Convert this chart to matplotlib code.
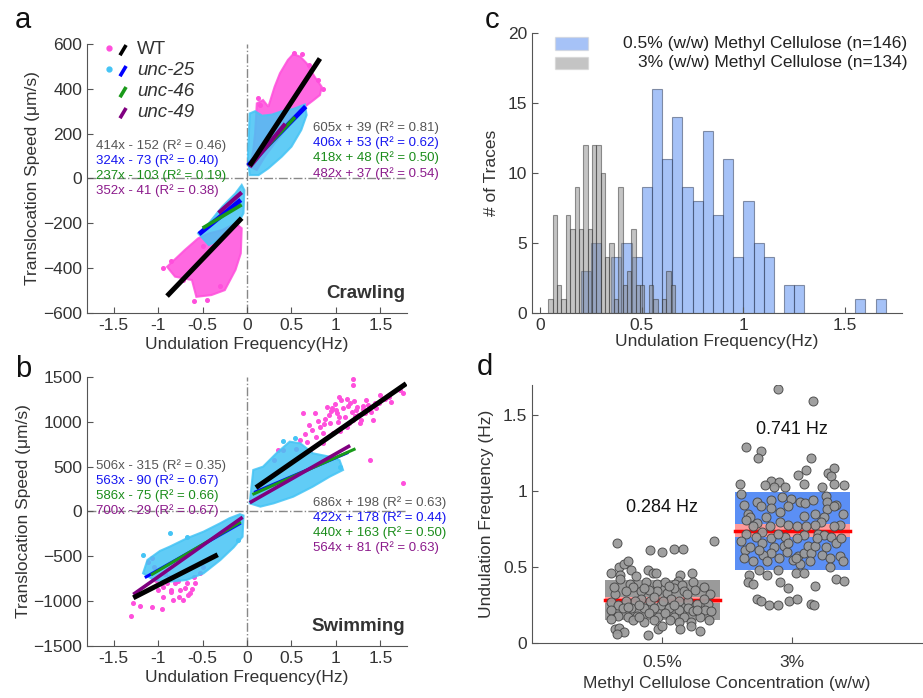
import numpy as np
import matplotlib
matplotlib.use('Agg')
import matplotlib.pyplot as plt
from matplotlib.patches import Rectangle

plt.rcParams['font.family'] = ['Liberation Sans', 'DejaVu Sans']

# ---------------- panels a / b : regression fits ----------------
strains = ['WT', 'unc-25', 'unc-46', 'unc-49']
line_colors = ['black', '#0000ff', '#1a9a1a', '#800080']
text_colors = ['#555555', '#1414f0', '#1a8c1a', '#8b1a8b']

crawl_pos_slope = [605, 406, 418, 482]
crawl_pos_icpt = [39, 53, 48, 37]
crawl_pos_r2 = [0.81, 0.62, 0.50, 0.54]
crawl_pos_xmin = [0.03, 0.01, 0.05, 0.03]
crawl_pos_xmax = [0.82, 0.66, 0.54, 0.43]
crawl_neg_slope = [414, 324, 237, 352]
crawl_neg_icpt = [-152, -73, -103, -41]
crawl_neg_r2 = [0.46, 0.40, 0.19, 0.38]
crawl_neg_xmin = [-0.90, -0.54, -0.50, -0.32]
crawl_neg_xmax = [-0.06, -0.07, -0.06, -0.06]

swim_pos_slope = [686, 422, 440, 564]
swim_pos_icpt = [198, 178, 163, 81]
swim_pos_r2 = [0.63, 0.44, 0.50, 0.63]
swim_pos_xmin = [0.10, 0.08, 0.06, 0.03]
swim_pos_xmax = [1.79, 1.14, 1.22, 1.16]
swim_neg_slope = [506, 563, 586, 700]
swim_neg_icpt = [-315, -90, -75, -29]
swim_neg_r2 = [0.35, 0.67, 0.66, 0.67]
swim_neg_xmin = [-1.28, -1.15, -1.08, -1.28]
swim_neg_xmax = [-0.33, -0.07, -0.07, -0.05]

# point clouds (outlines)
crawl_wt_pos_x = [0.03, 0.07, 0.09, 0.11, 0.18, 0.24, 0.31, 0.37, 0.46, 0.52, 0.60, 0.67,
                  0.76, 0.84, 0.82, 0.75, 0.65, 0.54, 0.43, 0.31, 0.20, 0.11]
crawl_wt_pos_y = [52, 127, 201, 335, 350, 320, 409, 469, 529, 555, 543, 514,
                  454, 409, 372, 350, 320, 276, 216, 157, 97, 38]
crawl_mut_pos_x = [0.03, 0.01, 0.03, 0.09, 0.17, 0.28, 0.39, 0.52, 0.65, 0.67, 0.61, 0.50,
                   0.39, 0.24, 0.13]
crawl_mut_pos_y = [15, 97, 290, 300, 280, 285, 300, 310, 330, 283, 216, 142, 97, 45, 15]
crawl_wt_neg_x = [-0.90, -0.70, -0.55, -0.43, -0.28, -0.13, -0.06, -0.07, -0.13, -0.25,
                  -0.40, -0.57, -0.62, -0.81]
crawl_wt_neg_y = [-394, -319, -267, -245, -230, -200, -222, -334, -408, -498,
                  -520, -528, -453, -438]
crawl_mut_neg_x = [-0.55, -0.43, -0.28, -0.13, -0.06, -0.03, -0.04, -0.10, -0.21, -0.32, -0.43]
crawl_mut_neg_y = [-245, -200, -126, -66, -29, -52, -155, -200, -230, -275, -297]
crawl_wt_dot_x = [0.53, 0.62, 0.80, 0.86, 0.70, 0.12, 0.15, -0.95, -0.85, -0.60, -0.45,
                  -0.30, -0.72, -0.50]
crawl_wt_dot_y = [560, 555, 440, 400, 505, 360, 330, -400, -370, -545, -540, -480,
                  -455, -300]

swim_mut_pos_x = [0.03, 0.07, 0.18, 0.33, 0.48, 0.60, 0.74, 0.93, 1.04, 1.08, 0.93, 0.74,
                  0.52, 0.30, 0.15]
swim_mut_pos_y = [91, 463, 500, 649, 779, 760, 649, 611, 574, 463, 388, 277, 165, 91, 54]
swim_mut_neg_x = [-1.17, -1.12, -0.98, -0.87, -0.68, -0.49, -0.30, -0.20, -0.08, -0.04,
                  -0.05, -0.15, -0.30, -0.49, -0.68, -0.87, -1.05]
swim_mut_neg_y = [-689, -540, -440, -392, -300, -225, -130, -76, -30, -45,
                  -281, -400, -541, -690, -764, -782, -764]

swim_wt_pos_x = [1.19, 1.19, 1.76, 1.72, 1.04, 1.34, 1.49, 0.90, 1.16, 1.23, 1.40, 0.76, 0.63,
                 1.04, 1.19, 0.93, 1.27, 1.42, 1.01, 0.82, 1.12, 0.97, 0.73, 0.78, 0.71, 0.86,
                 0.41, 0.35, 0.30, 1.38, 1.76, 0.95, 1.08, 1.10, 1.25, 1.30, 1.15, 1.05, 0.88,
                 0.99, 1.20, 1.33, 1.45, 1.55, 0.70, 0.85, 1.12, 1.28, 0.92, 1.50, 1.60, 0.60,
                 0.55, 0.65, 1.02, 1.36, 1.62, 0.80, 1.18, 0.68, 1.06, 1.14, 1.22, 0.96, 1.31,
                 1.44, 0.87, 1.00, 1.24]
swim_wt_pos_y = [1474, 1411, 1318, 1355, 1281, 1243, 1206, 1169, 1206, 1132, 1113, 1094, 1094,
                 1057, 1020, 983, 983, 1020, 1094, 946, 946, 872, 909, 835, 686, 760,
                 686, 686, 574, 574, 315, 1120, 1150, 1050, 1080, 1180, 990, 900, 1030,
                 1200, 1230, 1100, 1150, 1250, 960, 880, 1260, 1020, 1080, 1300, 1280, 800,
                 700, 860, 1000, 1190, 1220, 1010, 1110, 780, 1240, 1180, 1060, 1150, 1140,
                 1210, 980, 1130, 1170]
swim_wt_neg_x = [-1.30, -1.28, -1.20, -1.07, -0.96, -1.11, -1.07, -1.05, -0.88, -0.81, -0.75,
                 -0.86, -0.72, -0.77, -0.68, -0.60, -0.94, -1.02, -0.83, -0.64, -0.53, -0.49,
                 -0.90, -0.85, -0.70, -0.78, -0.66, -0.58, -0.95, -1.00, -0.92, -0.62]
swim_wt_neg_y = [-1165, -1024, -1054, -1062, -1087, -559, -522, -615, -727, -801, -875,
                 -875, -987, -950, -801, -727, -838, -764, -987, -913, -690, -615,
                 -800, -900, -850, -780, -930, -800, -950, -880, -700, -860]
swim_mut_dot_x = [-0.87, -0.68, -1.17, 0.54, 0.40, 1.05, -0.10]
swim_mut_dot_y = [-243, -280, -485, 816, 790, 500, -320]

# ---------------- panel c : histograms ----------------
blue_start, blue_width = 0.20, 0.05
blue_counts = [3, 5, 0, 4, 5, 4, 9, 16, 11, 14, 9, 8, 13, 7, 11, 4, 8, 5, 4, 0,
               2, 2, 0, 0, 0, 0, 0, 1, 0, 1]
gray_start, gray_width = 0.04, 0.0215
gray_counts = [1, 7, 2, 1, 7, 6, 9, 6, 12, 6, 12, 12, 10, 4, 5, 1, 9, 2, 3, 6,
               2, 2, 0, 2, 1, 0, 1, 3, 2]
hist_labels = ['0.5% (w/w) Methyl Cellulose (n=146)', '3% (w/w) Methyl Cellulose (n=134)']

# ---------------- panel d : jittered points ----------------
conc_labels = ['0.5%', '3%']
means = [0.284, 0.741]
sds = [0.13, 0.257]
cis = [0.02, 0.04]

low_dx = [-0.35, -0.09, 0.0, 0.09, 0.16, 0.40, -0.39, -0.33, -0.29, -0.26, -0.32, -0.24, -0.20,
          -0.11, -0.07, -0.05, 0.14, 0.23, 0.12, 0.10, -0.32, -0.25, -0.22, -0.12, -0.04, 0.02,
          0.09, 0.15, 0.24, 0.25, 0.32, 0.17, 0.04, -0.04, -0.16, -0.28, -0.36, 0.37, -0.16,
          -0.09, -0.21, -0.28, -0.39, -0.34, 0.07, 0.13, 0.20, 0.27, 0.35, -0.01, -0.06, -0.14,
          -0.24, -0.30, -0.39, 0.05, 0.13, 0.20, 0.24, 0.33, 0.38, -0.34, -0.26, -0.19, -0.10,
          -0.03, 0.02, 0.09, 0.17, 0.29, 0.36, -0.39, -0.22, -0.14, -0.06, 0.13, 0.22, -0.36,
          -0.33, -0.29, -0.35, -0.11, -0.03, 0.0, 0.14, 0.22, 0.29, -0.18, 0.06, 0.32, -0.37,
          0.01, -0.26, 0.19, -0.10, 0.09, -0.18, 0.27, 0.05, -0.06, -0.14]
low_y = [0.66, 0.61, 0.60, 0.62, 0.62, 0.67, 0.46, 0.50, 0.52, 0.54, 0.45, 0.48, 0.44,
         0.48, 0.46, 0.46, 0.45, 0.46, 0.41, 0.39, 0.42, 0.39, 0.37, 0.40, 0.39, 0.40,
         0.36, 0.38, 0.40, 0.35, 0.37, 0.34, 0.33, 0.34, 0.34, 0.34, 0.32, 0.32, 0.29,
         0.28, 0.28, 0.28, 0.27, 0.25, 0.29, 0.28, 0.28, 0.26, 0.26, 0.25, 0.23, 0.23,
         0.23, 0.23, 0.22, 0.23, 0.22, 0.23, 0.21, 0.22, 0.21, 0.18, 0.17, 0.18, 0.20,
         0.17, 0.20, 0.17, 0.17, 0.17, 0.15, 0.16, 0.15, 0.14, 0.15, 0.14, 0.14, 0.09,
         0.10, 0.07, 0.06, 0.05, 0.09, 0.11, 0.09, 0.11, 0.08, 0.17, 0.15, 0.29, 0.37,
         0.28, 0.24, 0.32, 0.35, 0.25, 0.25, 0.22, 0.375, 0.305, 0.36]
high_dx = [-0.11, 0.16, -0.35, -0.24, -0.26, 0.15, 0.05, 0.11, 0.28, 0.32, 0.30, -0.40, -0.16,
           -0.10, -0.05, -0.14, 0.09, 0.23, 0.32, 0.40, -0.21, -0.39, -0.37, -0.27, -0.24,
           -0.16, -0.08, -0.01, 0.06, 0.10, 0.16, 0.26, 0.34, 0.39, 0.27, -0.34, -0.32, -0.35,
           -0.16, -0.09, -0.03, 0.09, 0.18, 0.27, 0.32, 0.25, 0.22, 0.18, 0.37, -0.20, -0.27,
           -0.30, -0.23, -0.17, -0.09, -0.03, 0.04, -0.35, -0.39, -0.36, -0.37, -0.28, -0.23,
           -0.16, -0.14, -0.16, -0.22, -0.19, -0.30, -0.32, -0.05, -0.06, -0.04, -0.10, 0.01,
           0.05, 0.09, 0.12, 0.15, 0.18, 0.20, 0.25, 0.30, 0.34, 0.38, 0.26, 0.23, 0.29, 0.37,
           0.39, 0.09, 0.04, 0.11, 0.14, 0.06, 0.03, -0.03, -0.11, -0.25, 0.32, 0.19, -0.25,
           -0.11, -0.19, 0.03, 0.09, 0.29, -0.33, -0.34, -0.30, -0.09, 0.18, -0.03, 0.34, 0.40,
           -0.27, -0.24, -0.18, -0.11, -0.02, 0.04, 0.15, 0.17]
high_y = [1.675, 1.594, 1.29, 1.263, 1.22, 1.22, 1.11, 1.14, 1.12, 1.15, 1.10, 1.05, 1.07,
          1.06, 1.03, 1.03, 1.05, 1.03, 1.05, 1.04, 1.04, 0.98, 0.91, 0.93, 0.90,
          0.94, 0.96, 0.95, 0.93, 0.92, 0.94, 0.97, 0.91, 0.85, 0.93, 0.85, 0.83, 0.81,
          0.89, 0.86, 0.90, 0.84, 0.85, 0.88, 0.90, 0.83, 0.80, 0.78, 0.78, 0.83, 0.79,
          0.77, 0.73, 0.77, 0.80, 0.78, 0.77, 0.72, 0.67, 0.61, 0.56, 0.70, 0.66,
          0.69, 0.63, 0.59, 0.58, 0.54, 0.54, 0.63, 0.70, 0.64, 0.60, 0.56, 0.55,
          0.57, 0.59, 0.64, 0.59, 0.64, 0.72, 0.71, 0.70, 0.66, 0.69, 0.63, 0.58, 0.56, 0.57,
          0.54, 0.71, 0.69, 0.77, 0.54, 0.52, 0.56, 0.66, 0.72, 0.61, 0.77, 0.69, 0.48,
          0.48, 0.45, 0.46, 0.46, 0.50, 0.45, 0.40, 0.39, 0.40, 0.375, 0.36, 0.42, 0.41,
          0.29, 0.28, 0.25, 0.25, 0.28, 0.29, 0.26, 0.25]

# ---------------------------------------------------------------
fig = plt.figure(figsize=(9.23, 6.98), dpi=100)
ax_a = fig.add_axes([0.0943, 0.5516, 0.3467, 0.3854])
ax_b = fig.add_axes([0.0943, 0.0745, 0.3467, 0.3854])
ax_c = fig.add_axes([0.5764, 0.5516, 0.4009, 0.4011])
ax_d = fig.add_axes([0.5764, 0.0788, 0.4225, 0.3696])

axis_gray = '#555555'
pink = '#ff4fdc'
cyan = '#45c4f5'


def style(ax):
    for s in ['top', 'right']:
        ax.spines[s].set_visible(False)
    for s in ['left', 'bottom']:
        ax.spines[s].set_color(axis_gray)
    ax.tick_params(direction='in', length=4, colors=axis_gray, labelcolor='#333333',
                   labelsize=12.5)


def eq_text(slope, icpt, r2):
    sign = '+' if icpt >= 0 else '-'
    return f'{slope}x {sign} {abs(icpt)} (R\u00b2 = {r2:.2f})'


def speed_panel(ax, ylim, yticks, wt_clouds, mut_clouds, pos, neg, name,
                left_rows, right_rows, wt_dots=None, mut_dots=None, widths=None):
    style(ax)
    ax.axvline(0, color='#888888', ls='-.', lw=1, zorder=1)
    ax.axhline(0, color='#888888', ls='-.', lw=1, zorder=1)
    for cx, cy in wt_clouds:
        ax.fill(cx, cy, color=pink, alpha=0.85, lw=1.5, zorder=2)
    if wt_dots is not None:
        ax.plot(wt_dots[0], wt_dots[1], 'o', color=pink, ms=2.6, zorder=2)
    for cx, cy in mut_clouds:
        ax.fill(cx, cy, color=cyan, alpha=0.85, lw=1.5, zorder=3)
    if mut_dots is not None:
        ax.plot(mut_dots[0], mut_dots[1], 'o', color=cyan, ms=2.6, zorder=3)
    for fit in (pos, neg):
        slope, icpt, r2, xmin, xmax = fit
        for i in range(4):
            xs = np.array([xmin[i], xmax[i]])
            ax.plot(xs, slope[i] * xs + icpt[i], color=line_colors[i], lw=widths[i],
                    solid_capstyle='butt', zorder=5 if i == 0 else 4 + i * 0.1)
    for i in range(4):
        ax.text(0.028, left_rows[i], eq_text(neg[0][i], neg[1][i], neg[2][i]),
                transform=ax.transAxes, color=text_colors[i], fontsize=9.5, va='center',
                zorder=6)
        ax.text(0.706, right_rows[i], eq_text(pos[0][i], pos[1][i], pos[2][i]),
                transform=ax.transAxes, color=text_colors[i], fontsize=9.5, va='center',
                zorder=6)
    ax.text(0.995, 0.074, name, transform=ax.transAxes, ha='right', va='center',
            fontsize=13.5, fontweight='bold', color='#333333')
    ax.set_xlim(-1.8, 1.8)
    ax.set_ylim(*ylim)
    ax.set_xticks([-1.5, -1, -0.5, 0, 0.5, 1, 1.5])
    ax.set_xticklabels(['-1.5', '-1', '-0.5', '0', '0.5', '1', '1.5'])
    ax.set_yticks(yticks)
    ax.set_xlabel('Undulation Frequency(Hz)', fontsize=12.5, color='#333333', labelpad=3)
    ax.set_ylabel('Translocation Speed (\u03bcm/s)', fontsize=12.5, color='#333333',
                  labelpad=2)


speed_panel(ax_a, (-600, 600), [-600, -400, -200, 0, 200, 400, 600],
            [(crawl_wt_pos_x, crawl_wt_pos_y), (crawl_wt_neg_x, crawl_wt_neg_y)],
            [(crawl_mut_pos_x, crawl_mut_pos_y), (crawl_mut_neg_x, crawl_mut_neg_y)],
            (crawl_pos_slope, crawl_pos_icpt, crawl_pos_r2, crawl_pos_xmin, crawl_pos_xmax),
            (crawl_neg_slope, crawl_neg_icpt, crawl_neg_r2, crawl_neg_xmin, crawl_neg_xmax),
            'Crawling', [0.621, 0.565, 0.509, 0.454], [0.688, 0.632, 0.576, 0.520],
            wt_dots=(crawl_wt_dot_x, crawl_wt_dot_y), widths=[3.6, 3.4, 2.6, 3.0])

speed_panel(ax_b, (-1500, 1500), [-1500, -1000, -500, 0, 500, 1000, 1500],
            [],
            [(swim_mut_pos_x, swim_mut_pos_y), (swim_mut_neg_x, swim_mut_neg_y)],
            (swim_pos_slope, swim_pos_icpt, swim_pos_r2, swim_pos_xmin, swim_pos_xmax),
            (swim_neg_slope, swim_neg_icpt, swim_neg_r2, swim_neg_xmin, swim_neg_xmax),
            'Swimming', [0.670, 0.614, 0.560, 0.502], [0.533, 0.477, 0.421, 0.366],
            wt_dots=(swim_wt_pos_x + swim_wt_neg_x, swim_wt_pos_y + swim_wt_neg_y),
            mut_dots=(swim_mut_dot_x, swim_mut_dot_y), widths=[3.6, 2.2, 2.2, 2.6])

# legend of panel a
marker_cols = [pink, cyan, None, None]
for i in range(4):
    yy = 0.978 - 0.078 * i
    if marker_cols[i] is not None:
        ax_a.plot([0.069], [yy + 0.008], 'o', ms=3.5, color=marker_cols[i],
                  transform=ax_a.transAxes, clip_on=False)
    ax_a.plot([0.103, 0.122], [yy - 0.02, yy + 0.018], color=line_colors[i], lw=2.6,
              transform=ax_a.transAxes, clip_on=False, solid_capstyle='butt')
    ax_a.text(0.156, yy, strains[i], transform=ax_a.transAxes, fontsize=13.5,
              va='center', color='#333333', fontstyle='normal' if i == 0 else 'italic')

# ---------------- panel c ----------------
style(ax_c)
blue_edges = blue_start + blue_width * np.arange(len(blue_counts))
gray_edges = gray_start + gray_width * np.arange(len(gray_counts))
ax_c.bar(blue_edges, blue_counts, width=blue_width, align='edge',
         color='#4f86f0', alpha=0.5, edgecolor='#2a3550', lw=0.8)
ax_c.bar(gray_edges, gray_counts, width=gray_width, align='edge',
         color='#8a8a8a', alpha=0.5, edgecolor='#303030', lw=0.8)
ax_c.set_xlim(-0.04, 1.78)
ax_c.set_ylim(0, 20)
ax_c.set_xticks([0, 0.5, 1, 1.5])
ax_c.set_xticklabels(['0', '0.5', '1', '1.5'])
ax_c.set_yticks([0, 5, 10, 15, 20])
ax_c.set_xlabel('Undulation Frequency(Hz)', fontsize=12.5, color='#333333', labelpad=1)
ax_c.set_ylabel('# of Traces', fontsize=12.5, color='#333333', labelpad=6)
leg_cols = ['#4f86f0', '#8a8a8a']
for i in range(2):
    yy = 0.964 - 0.071 * i
    ax_c.add_patch(Rectangle((0.062, yy - 0.023), 0.089, 0.046, transform=ax_c.transAxes,
                             facecolor=leg_cols[i], alpha=0.5, edgecolor='#d0d0d0',
                             clip_on=False))
    ax_c.text(1.014, yy, hist_labels[i], transform=ax_c.transAxes, ha='right', va='center',
              fontsize=12.5, color='#222222')

# ---------------- panel d ----------------
style(ax_d)
box_cols = ['#9a9a9a', '#5b8ff5']
groups = [(low_dx, low_y), (high_dx, high_y)]
for i in range(2):
    pos = i + 1
    ax_d.add_patch(Rectangle((pos - 0.435, means[i] - sds[i]), 0.88, 2 * sds[i],
                             facecolor=box_cols[i], edgecolor='none', zorder=1))
    ax_d.add_patch(Rectangle((pos - 0.435, means[i] - cis[i]), 0.88, 2 * cis[i],
                             facecolor='#ff9a9a', edgecolor='none', zorder=2))
    ax_d.plot([pos - 0.435, pos + 0.445], [means[i], means[i]], color='#ff0000', lw=2.5,
              zorder=3)
    dx, yv = groups[i]
    ax_d.scatter(pos + np.array(dx), yv, s=42, facecolor='#9b9b9b', edgecolor='#4a4a4a',
                 lw=0.7, alpha=0.95, zorder=4)
    ax_d.text(pos, [0.89, 1.41][i], f'{means[i]:.3f} Hz', ha='center', va='center',
              fontsize=13, color='#111111')
ax_d.set_xlim(0, 3)
ax_d.set_ylim(0, 1.7)
ax_d.set_xticks([1, 2])
ax_d.set_xticklabels(conc_labels)
ax_d.tick_params(axis='x', pad=9)
ax_d.set_yticks([0, 0.5, 1, 1.5])
ax_d.set_yticklabels(['0', '0.5', '1', '1.5'])
ax_d.set_xlabel('Methyl Cellulose Concentration (w/w)', fontsize=12.5, color='#333333',
                labelpad=4)
ax_d.set_ylabel('Undulation Frequency (Hz)', fontsize=12.5, color='#333333', labelpad=6)

# panel letters
for letter, (fx, fy) in zip('abcd', [(0.025, 0.971), (0.025, 0.471),
                                     (0.533, 0.971), (0.525, 0.474)]):
    fig.text(fx, fy, letter, fontsize=21, ha='center', va='center', color='#111111')

fig.savefig('out.png', dpi=100)
